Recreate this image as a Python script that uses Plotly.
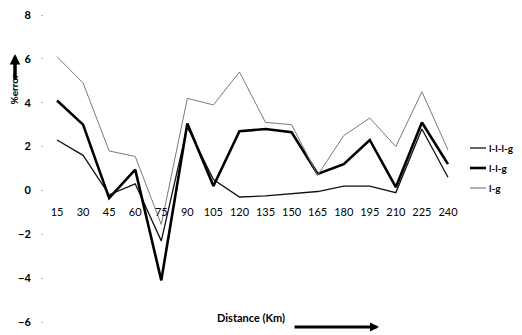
import plotly.graph_objects as go

distance = ["15", "30", "45", "60", "75", "90", "105", "120", "135", "150",
            "165", "180", "195", "210", "225", "240"]
lllg = [2.3, 1.6, -0.2, 0.3, -2.3, 2.9, 0.5, -0.3, -0.25, -0.15,
        -0.05, 0.2, 0.2, -0.1, 2.8, 0.6]
llg = [4.1, 3.0, -0.35, 0.95, -4.1, 3.05, 0.2, 2.7, 2.8, 2.65,
       0.75, 1.2, 2.3, 0.15, 3.1, 1.2]
lg = [6.1, 4.9, 1.8, 1.55, -1.55, 4.2, 3.9, 5.4, 3.1, 3.0,
      0.7, 2.5, 3.3, 2.0, 4.5, 1.85]
y_ticks = [-6, -4, -2, 0, 2, 4, 6, 8]

series = [
    ("l-l-l-g", lllg, "#111111", 1.3),
    ("l-l-g", llg, "#000000", 2.6),
    ("l-g", lg, "#7a7a7a", 1.0),
]

fig = go.Figure()
for name, vals, col, w in series:
    fig.add_trace(go.Scatter(x=distance, y=vals, mode="lines", name=name,
                             line=dict(color=col, width=w), showlegend=False))

OFF = 8  # page body margin
W, H = 522 - 2 * OFF, 335 - OFF
L, R, T, B = 44 - OFF, 461 - OFF, 15 - OFF, 322 - OFF

def px(xp):
    return (xp - OFF - L) / (R - L)

def py(yp):
    return (B - (yp - OFF)) / (B - T)

fig.update_layout(
    width=W, height=H,
    margin=dict(l=L, r=W - R, t=T, b=H - B, autoexpand=False),
    paper_bgcolor="white", plot_bgcolor="white",
    font=dict(family="Lato, Liberation Sans, sans-serif", color="black", size=11),
    xaxis=dict(type="category", range=[-0.5, 15.5], showgrid=False, showline=False,
               zeroline=False, ticks="", anchor="free", position=py(189), automargin=False,
               ticklabelstandoff=15, tickfont=dict(size=11)),
    yaxis=dict(range=[-6, 8], tickvals=y_ticks, showgrid=False, showline=False,
               zeroline=False, ticks="outside", ticklen=2, tickcolor="#bbbbbb", automargin=False,
               ticklabeloverflow="allow",
               ticklabelstandoff=8, tickfont=dict(size=11, weight="bold")),
)

# y-axis title with upward arrow
fig.add_annotation(x=px(5), y=py(72), xref="paper", yref="paper", text="<b>%error</b>",
                   textangle=-90, showarrow=False, font=dict(size=10))
fig.add_annotation(x=px(15), y=py(54), xref="paper", yref="paper", text="",
                   showarrow=True, arrowhead=2, arrowsize=0.6, arrowwidth=3.5,
                   ax=0, ay=27, arrowcolor="black")
# x-axis title with right arrow
fig.add_annotation(x=px(251), y=py(326), xref="paper", yref="paper", text="<b>Distance (Km)</b>",
                   showarrow=False, font=dict(size=11))
fig.add_annotation(x=px(379), y=py(327), xref="paper", yref="paper", text="",
                   showarrow=True, arrowhead=2, arrowsize=0.6, arrowwidth=3,
                   ax=-86, ay=0, arrowcolor="black")

# manual legend
for i, (name, vals, col, w) in enumerate(series):
    yy = 148 + 20 * i
    fig.add_shape(type="line", xref="paper", yref="paper",
                  x0=px(470), x1=px(486), y0=py(yy), y1=py(yy),
                  line=dict(color=col, width=max(w, 1.2)))
    fig.add_annotation(x=px(487), y=py(yy), xref="paper", yref="paper", text="<b>" + name + "</b>",
                       showarrow=False, xanchor="left", font=dict(size=10))

fig.write_html("out.html")
